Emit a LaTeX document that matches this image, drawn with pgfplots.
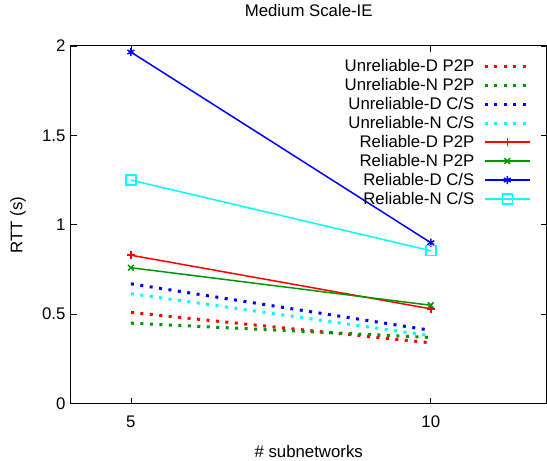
\documentclass[border=0pt]{standalone}
\usepackage{fontspec}
\setmainfont{Liberation Sans}
\usepackage{pgfplots}
\pgfplotsset{compat=1.18}
\usetikzlibrary{calc}
\definecolor{gpred}{RGB}{255,0,0}
\definecolor{gpgreen}{RGB}{0,150,0}
\definecolor{gpblue}{RGB}{0,0,255}
\definecolor{gpcyan}{RGB}{0,255,255}
\begin{document}
\begin{tikzpicture}
\begin{axis}[
  scale only axis,
  width=476pt,height=358pt,
  xmin=4,xmax=11.93,ymin=0,ymax=2,
  xtick={5,10},ytick={0,0.5,1,1.5,2},
  font=\fontsize{16.8}{20}\selectfont,
  /pgf/number format/assume math mode=true,
  tick align=inside,major tick length=6pt,
  tick style={black,line width=0.8pt},
  axis line style={black,line width=1pt},
  xticklabel style={yshift=-9pt},
  yticklabel style={xshift=-2pt},
  title={Medium Scale-IE},
  title style={at={(axis description cs:0.5,1)},anchor=base,yshift=23pt,inner sep=0pt},
  xlabel={\# subnetworks},
  xlabel style={at={(axis description cs:0.5,0)},anchor=base,yshift=-54pt,inner sep=0pt},
  ylabel={RTT (s)},
  ylabel style={at={(axis description cs:-0.1113,0.5)},anchor=center,inner sep=0pt},
  legend plot pos=right,
  legend cell align=right,
  legend image code/.code={\draw[mark repeat=2,mark phase=2,#1] plot coordinates {(0pt,0pt)(22.5pt,0pt)(45pt,0pt)};},
  legend style={draw=none,fill=none,at={(rel axis cs:1,1)},anchor=north east,
    xshift=-15pt,yshift=-13pt,inner sep=0pt,row sep=5pt,column sep=9pt,
    nodes={inner sep=0pt,text height=12pt,text depth=2pt},
    font=\fontsize{16.8}{20}\selectfont},
  dotline/.style={line width=3pt,dash pattern=on 3pt off 6.5pt},
  solidline/.style={line width=1.5pt},
]
\addplot[gpred,dotline] coordinates {(5,0.51)(10,0.34)};
\addlegendentry{Unreliable-D P2P}
\addplot[gpgreen,dotline] coordinates {(5,0.45)(10,0.37)};
\addlegendentry{Unreliable-N P2P}
\addplot[gpblue,dotline] coordinates {(5,0.67)(10,0.41)};
\addlegendentry{Unreliable-D C/S}
\addplot[gpcyan,dotline] coordinates {(5,0.615)(10,0.38)};
\addlegendentry{Unreliable-N C/S}
\addplot[gpred,solidline,mark=+,mark size=4pt] coordinates {(5,0.83)(10,0.53)};
\addlegendentry{Reliable-D P2P}
\addplot[gpgreen,solidline,mark=x,mark size=4pt] coordinates {(5,0.76)(10,0.55)};
\addlegendentry{Reliable-N P2P}
\addplot[gpblue,solidline,mark=asterisk,mark size=4pt] coordinates {(5,1.966)(10,0.90)};
\addlegendentry{Reliable-D C/S}
\addplot[gpcyan,solidline,mark=square,mark size=5pt] coordinates {(5,1.25)(10,0.855)};
\addlegendentry{Reliable-N C/S}
\end{axis}
\path ($(current axis.south west)+(-71pt,-57pt)$) rectangle ($(current axis.north east)+(0pt,46pt)$);
\end{tikzpicture}
\end{document}
